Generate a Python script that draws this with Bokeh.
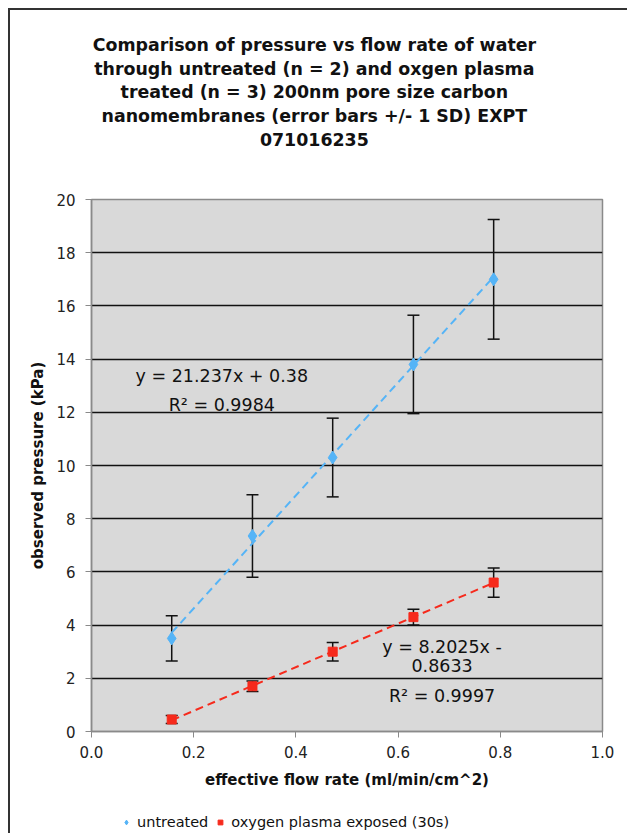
from bokeh.plotting import figure
from bokeh.layouts import column
from bokeh.models import (ColumnDataSource, Whisker, TeeHead, Label, FixedTicker,
                          PrintfTickFormatter, Legend, LegendItem, Range1d)
from bokeh.embed import file_html
from bokeh.resources import INLINE

# ---- data ----
flow = [0.157, 0.315, 0.472, 0.630, 0.787]
untreated = [3.5, 7.35, 10.3, 13.8, 17.0]
untreated_sd = [0.85, 1.55, 1.48, 1.85, 2.25]
treated = [0.45, 1.70, 3.00, 4.30, 5.60]
treated_sd = [0.15, 0.20, 0.35, 0.30, 0.55]
fit_untreated = (21.237, 0.38)
fit_treated = (8.2025, -0.8633)
title_lines = [
    "Comparison of pressure vs flow rate of water",
    "through untreated (n = 2) and oxgen plasma",
    "treated (n = 3) 200nm pore size carbon",
    "nanomembranes (error bars +/- 1 SD) EXPT",
    "071016235",
]
series_names = ["untreated", "oxygen plasma exposed (30s)"]
x_ticks = [0.0, 0.2, 0.4, 0.6, 0.8, 1.0]
y_ticks = [0, 2, 4, 6, 8, 10, 12, 14, 16, 18, 20]

FONT = "DejaVu Sans"
BLUE = "#55b4f7"
RED = "#f62a1c"
FW = 509          # frame width shared by all three strips
BL, BR = 81, 27   # left / right borders
EDGE = "2px solid #333"


def blank_fig(h, top_border=False):
    f = figure(frame_width=FW, frame_height=h, output_backend="svg", toolbar_location=None,
               x_axis_type=None, y_axis_type=None, x_range=Range1d(0, FW), y_range=Range1d(h, 0),
               min_border_left=BL, min_border_right=BR, min_border_top=0, min_border_bottom=0)
    f.grid.visible = False
    f.outline_line_color = None
    f.background_fill_color = "white"
    st = {"border-left": EDGE, "margin-left": "8px"}
    if top_border:
        st.update({"border-top": EDGE, "margin-top": "8px"})
    f.styles = st
    return f


# ---- title block (centred on the whole chart, i.e. 222 px right of the frame's left edge) ----
tf = blank_fig(179, top_border=True)
for i, line in enumerate(title_lines):
    tf.add_layout(Label(x=222, y=34 + i * 23.5, text=line, text_font=FONT,
                        text_font_size="17.4px", text_font_style="bold", text_color="#111",
                        text_align="center", text_baseline="middle"))

# ---- main plot ----
p = figure(frame_width=FW, frame_height=532, output_backend="svg", toolbar_location=None,
           x_range=Range1d(0, 1), y_range=Range1d(0, 20),
           min_border_left=BL, min_border_right=BR, min_border_bottom=79, min_border_top=10)
p.styles = {"border-left": EDGE, "margin-left": "8px"}

p.background_fill_color = "#d9d9d9"
p.border_fill_color = "white"
p.outline_line_color = "#8a8a8a"
p.outline_line_width = 1.5

p.xgrid.grid_line_color = None
p.ygrid.grid_line_color = "#111"
p.ygrid.grid_line_width = 1.5
p.ygrid.ticker = FixedTicker(ticks=y_ticks)

for ax in (p.xaxis, p.yaxis):
    ax.axis_line_color = "#8a8a8a"
    ax.axis_line_width = 1.5
    ax.major_tick_line_color = "#8a8a8a"
    ax.major_tick_out = 6
    ax.major_tick_in = 0
    ax.minor_tick_line_color = None
    ax.major_label_text_font = FONT
    ax.major_label_text_font_size = "15px"
    ax.major_label_text_color = "#222"
    ax.axis_label_text_font = FONT
    ax.axis_label_text_font_size = "15px"
    ax.axis_label_text_font_style = "bold"
    ax.axis_label_text_color = "#111"

p.xaxis.ticker = FixedTicker(ticks=x_ticks)
p.xaxis.formatter = PrintfTickFormatter(format="%.1f")
p.yaxis.ticker = FixedTicker(ticks=y_ticks)
p.xaxis.axis_label = "effective flow rate (ml/min/cm^2)"
p.yaxis.axis_label = "observed pressure (kPa)"
p.xaxis.major_label_standoff = 8
p.yaxis.major_label_standoff = 10
p.xaxis.axis_label_standoff = 10
p.yaxis.axis_label_standoff = 6

# trend lines
xs = [min(flow), max(flow)]
p.line(xs, [fit_untreated[0] * x + fit_untreated[1] for x in xs], line_color=BLUE,
       line_width=2, line_dash="8 5")
p.line(xs, [fit_treated[0] * x + fit_treated[1] for x in xs], line_color=RED,
       line_width=2, line_dash="8 5")

# error bars
src_u = ColumnDataSource(dict(x=flow, y=untreated,
                              lo=[v - s for v, s in zip(untreated, untreated_sd)],
                              hi=[v + s for v, s in zip(untreated, untreated_sd)]))
src_t = ColumnDataSource(dict(x=flow, y=treated,
                              lo=[v - s for v, s in zip(treated, treated_sd)],
                              hi=[v + s for v, s in zip(treated, treated_sd)]))
for src in (src_u, src_t):
    w = Whisker(source=src, base="x", lower="lo", upper="hi", line_color="#111", line_width=1.5,
                upper_head=TeeHead(size=12, line_color="#111", line_width=1.5),
                lower_head=TeeHead(size=12, line_color="#111", line_width=1.5))
    p.add_layout(w)

p.scatter("x", "y", source=src_u, marker="diamond", size=13, fill_color=BLUE, line_color=BLUE)
p.scatter("x", "y", source=src_t, marker="square", size=9, fill_color=RED, line_color=RED)


def lab(x, y, text):
    p.add_layout(Label(x=x, y=y, text=text, text_font=FONT, text_font_size="17.5px",
                       text_color="#111", text_align="center", text_baseline="middle"))


lab(0.255, 13.38, "y = 21.237x + 0.38")
lab(0.255, 12.28, "R² = 0.9984")
lab(0.686, 3.16, "y = 8.2025x -")
lab(0.686, 2.48, "0.8633")
lab(0.686, 1.35, "R² = 0.9997")

# ---- legend strip (legend glyphs come from series drawn outside the strip's visible range) ----
lf = blank_fig(23)
lg_u = lf.scatter(x=[-1000], y=[-1000], marker="diamond", size=11, fill_color=BLUE, line_color=BLUE)
lg_t = lf.scatter(x=[-1000], y=[-1000], marker="square", size=9, fill_color=RED, line_color=RED)
legend = Legend(items=[LegendItem(label=series_names[0], renderers=[lg_u]),
                       LegendItem(label=series_names[1], renderers=[lg_t])],
                orientation="horizontal", location=(29, 1),
                label_text_font=FONT, label_text_font_size="14.5px", label_text_color="#111",
                border_line_color=None, background_fill_alpha=0, glyph_width=12,
                glyph_height=20, label_height=20,
                label_standoff=5, spacing=6, padding=0, margin=0)
lf.add_layout(legend, "center")

layout = column(tf, p, lf, spacing=0)
open("out.html", "w").write(file_html(layout, INLINE))
